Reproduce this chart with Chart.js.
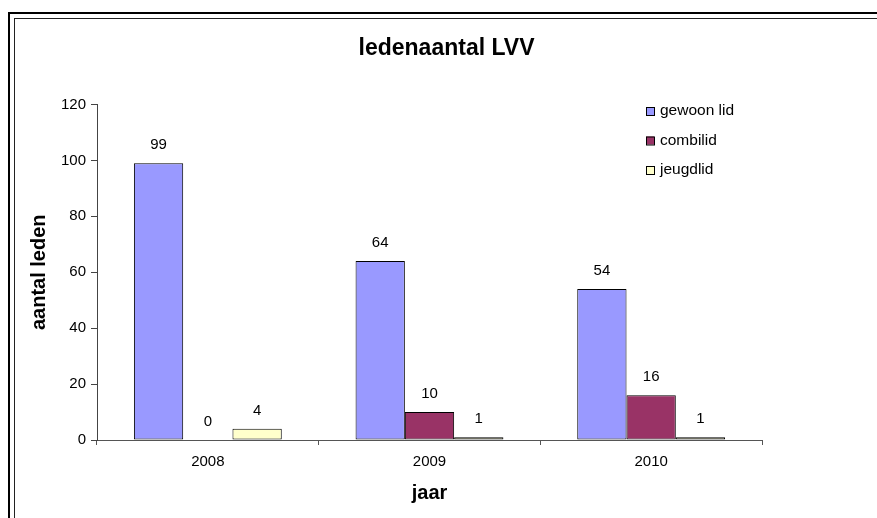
<!DOCTYPE html>
<html>
<head>
<meta charset="utf-8">
<script src="https://cdn.jsdelivr.net/npm/chart.js@4/dist/chart.umd.min.js"></script>
<style>
  html, body { margin: 0; padding: 0; background: #fff; overflow: hidden; }
  #wrap { position: relative; width: 877px; height: 518px; }
  .frame { position: absolute; width: 1200px; height: 1000px; box-sizing: border-box; }
  #outer { left: 8px; top: 12px; border: 2px solid #000; }
  #inner { left: 14px; top: 18px; border: 1px solid #222; }
  #chart-box { position: absolute; left: 0; top: 0; width: 877px; height: 518px; }
</style>
</head>
<body>
<div id="wrap">
  <div class="frame" id="outer"></div>
  <div class="frame" id="inner"></div>
  <div id="chart-box"><canvas id="members-chart"></canvas></div>
</div>
<script>
const FONT = "'Liberation Sans', Arial, sans-serif";

const chartTitle = "ledenaantal LVV";
const yAxisTitle = "aantal leden";
const xAxisTitle = "jaar";

const years = ["2008", "2009", "2010"];
const seriesNames = ["gewoon lid", "combilid", "jeugdlid"];
const gewoonLid = [99, 64, 54];
const combiLid = [0, 10, 16];
const jeugdLid = [4, 1, 1];
const seriesColors = ["#9999FF", "#993366", "#FFFFCC"];

const yMin = 0;
const yMax = 120;
const yStep = 20;

// value labels above each bar
const valueLabels = {
  id: "valueLabels",
  afterDatasetsDraw(chart) {
    const ctx = chart.ctx;
    ctx.save();
    ctx.font = "15px " + FONT;
    ctx.fillStyle = "#000";
    ctx.textAlign = "center";
    ctx.textBaseline = "middle";
    chart.data.datasets.forEach((ds, i) => {
      const meta = chart.getDatasetMeta(i);
      meta.data.forEach((bar, j) => {
        ctx.fillText(String(ds.data[j]), bar.x, bar.y - 18);
      });
    });
    ctx.restore();
  },
};

// chart title and the legend box inside the plot area
const titleAndLegend = {
  id: "titleAndLegend",
  afterDraw(chart) {
    const ctx = chart.ctx;
    ctx.save();
    ctx.fillStyle = "#000";
    ctx.textBaseline = "middle";
    ctx.textAlign = "center";
    ctx.font = "bold 23px " + FONT;
    ctx.fillText(chartTitle, 446.5, 49);

    ctx.textAlign = "left";
    ctx.font = "15.5px " + FONT;
    chart.data.datasets.forEach((ds, i) => {
      const cy = 111 + i * 29.5;
      ctx.fillStyle = ds.backgroundColor;
      ctx.fillRect(646, cy - 4, 8, 8);
      ctx.strokeStyle = "#000";
      ctx.lineWidth = 1;
      ctx.strokeRect(646.5, cy - 3.5, 8, 8);
      ctx.fillStyle = "#000";
      ctx.fillText(ds.label, 660, cy);
    });
    ctx.restore();
  },
};

const datasets = [gewoonLid, combiLid, jeugdLid].map((values, i) => ({
  label: seriesNames[i],
  data: values,
  backgroundColor: seriesColors[i],
  borderColor: "#000",
  borderWidth: 1,
  borderSkipped: false,
  categoryPercentage: 0.667,
  barPercentage: 1.0,
}));

new Chart(document.getElementById("members-chart").getContext("2d"), {
  type: "bar",
  data: {
    labels: years,
    datasets: datasets,
  },
  options: {
    responsive: true,
    maintainAspectRatio: false,
    animation: false,
    layout: {
      padding: { top: 104.5, right: 115, bottom: 0, left: 16 },
    },
    plugins: {
      legend: { display: false },
      title: { display: false },
      tooltip: { enabled: false },
    },
    scales: {
      x: {
        afterFit: (scale) => { scale.height = 78; },
        border: { display: true, color: "#555", width: 1 },
        grid: {
          drawOnChartArea: false,
          drawTicks: true,
          tickLength: 5,
          color: "#555",
          offset: true,
        },
        ticks: {
          color: "#000",
          font: { family: FONT, size: 15 },
          padding: 8,
        },
        title: {
          display: true,
          text: xAxisTitle,
          color: "#000",
          font: { family: FONT, size: 20, weight: "bold" },
          padding: { top: 0, bottom: 13 },
        },
      },
      y: {
        min: yMin,
        max: yMax,
        afterFit: (scale) => { scale.width = 81; },
        border: { display: true, color: "#444", width: 1 },
        grid: {
          drawOnChartArea: false,
          drawTicks: true,
          tickLength: 6,
          color: "#444",
        },
        ticks: {
          stepSize: yStep,
          color: "#000",
          font: { family: FONT, size: 15 },
          padding: 5,
        },
        title: {
          display: true,
          text: yAxisTitle,
          color: "#000",
          font: { family: FONT, size: 20, weight: "bold" },
          padding: { top: 11.5, bottom: 0 },
        },
      },
    },
  },
  plugins: [valueLabels, titleAndLegend],
});
</script>
</body>
</html>
